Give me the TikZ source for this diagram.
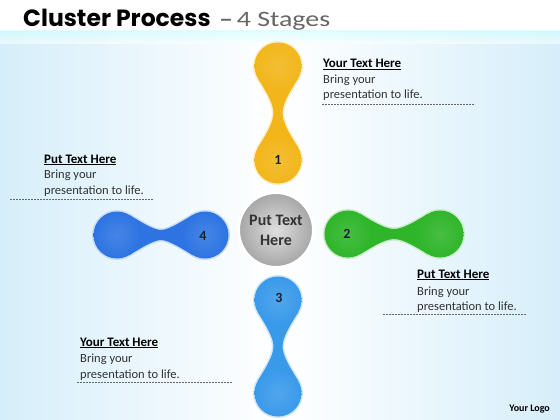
\documentclass[tikz,border=0pt]{standalone}
\usepackage{fontspec}
\setmainfont{Carlito}
\newfontfamily\titlefont{Poppins}
\newfontfamily\widefont[FakeStretch=1.27]{Carlito}
\definecolor{cyel}{HTML}{F2B61A}
\definecolor{cgrn}{HTML}{2FB52A}
\definecolor{cdbl}{HTML}{2D74E2}
\definecolor{clbl}{HTML}{3A9AEA}
\definecolor{bgblue}{HTML}{D6EEFA}
\definecolor{numcol}{HTML}{1A2236}
\definecolor{txtcol}{HTML}{333333}
\tikzset{
  pics/bell/.style n args={3}{code={
    \draw[#1!25!white, line width=3pt] (0,0) circle[radius=23.5] ({#2},0) circle[radius=23.5];
    \draw[#1!25!white, line width=3pt] (12,20.3) .. controls (21,15) and (36,#3) .. ({#2/2},#3) .. controls ({#2-36},#3) and ({#2-21},15) .. ({#2-12},20.3);
    \draw[#1!25!white, line width=3pt] ({#2-12},-20.3) .. controls ({#2-21},-15) and ({#2-36},-#3) .. ({#2/2},-#3) .. controls (36,-#3) and (21,-15) .. (12,-20.3);
    \fill[#1] (12,20.3) .. controls (21,15) and (36,#3) .. ({#2/2},#3) .. controls ({#2-36},#3) and ({#2-21},15) .. ({#2-12},20.3) -- ({#2-12},-20.3) .. controls ({#2-21},-15) and ({#2-36},-#3) .. ({#2/2},-#3) .. controls (36,-#3) and (21,-15) .. (12,-20.3) -- cycle;
    \shade[inner color=#1!88!white, outer color=#1] (0,0) circle[radius=23.5];
    \shade[inner color=#1!88!white, outer color=#1] ({#2},0) circle[radius=23.5];
  }},
  head/.style={anchor=base west, inner sep=0pt, font=\fontsize{13}{15}\selectfont\bfseries, text=black},
  body/.style={anchor=base west, inner sep=0pt, font=\fontsize{12.5}{15}\selectfont, text=txtcol},
  dline/.style={draw=gray!80!black, line width=0.8pt, dash pattern=on 2pt off 1pt},
  num/.style={font=\fontsize{14}{14}\selectfont\bfseries, text=numcol, inner sep=0pt}
}
\begin{document}
\begin{tikzpicture}[x=1pt,y=-1pt]
\useasboundingbox (0,0) rectangle (560,420);
% background
\shade[left color=bgblue, right color=bgblue, middle color=white] (0,31) rectangle (560,420);
\fill[white] (0,0) rectangle (560,31);
\shade[top color=cyan!20!white, bottom color=white, opacity=0.6] (0,31) rectangle (560,44);
% title
\node[anchor=base west, inner sep=0pt] (title) at (23,27) {\titlefont\fontsize{23.5}{24}\selectfont\bfseries Cluster Process};
\node[anchor=base west, inner sep=0pt, text=gray!80!black] (subtitle) at (219,27) {\widefont\fontsize{22}{22}\selectfont\bfseries –\,\mdseries 4 Stages};
% dumbbells
\pic[rotate=90] at (278,160) {bell={cyel}{94}{4.5}};
\pic at (348,234) {bell={cgrn}{92}{5}};
\pic[rotate=90] at (278,393) {bell={clbl}{93}{4.5}};
\pic at (117,235) {bell={cdbl}{88}{5}};
% centre
\node[circle, minimum size=75pt, draw=white, line width=3pt, inner color=gray!25!white, outer color=gray!70!white, align=center, font=\fontsize{16}{20}\selectfont\bfseries, text=txtcol] (centre) at (276,230) {Put Text\\Here};
% numbers
\node[num] (n1) at (278,160) {1};
\node[num] (n2) at (347,234) {2};
\node[num] (n3) at (279,298) {3};
\node[num] (n4) at (203,236) {4};
% text blocks
\node[head] (h1) at (323,68) {\underline{Your Text Here}};
\node[body] (b1a) at (323,84) {Bring your};
\node[body] (b1b) at (323,99) {presentation to life.};
\coordinate (d1a) at (322,104); \coordinate (d1b) at (475,104);
\draw[dline] (d1a) -- (d1b);

\node[head] (h2) at (44,163) {\underline{Put Text Here}};
\node[body] (b2a) at (44,178) {Bring your};
\node[body] (b2b) at (44,194) {presentation to life.};
\coordinate (d2a) at (10,199); \coordinate (d2b) at (153,199);
\draw[dline] (d2a) -- (d2b);

\node[head] (h3) at (417,278) {\underline{Put Text Here}};
\node[body] (b3a) at (417,295) {Bring your};
\node[body] (b3b) at (417,310) {presentation to life.};
\coordinate (d3a) at (383,314); \coordinate (d3b) at (526,314);
\draw[dline] (d3a) -- (d3b);

\node[head] (h4) at (80,346) {\underline{Your Text Here}};
\node[body] (b4a) at (80,362) {Bring your};
\node[body] (b4b) at (80,378) {presentation to life.};
\coordinate (d4a) at (77,382); \coordinate (d4b) at (232,382);
\draw[dline] (d4a) -- (d4b);

\node[anchor=base east, inner sep=0pt, font=\fontsize{10}{10}\selectfont\bfseries] (logo) at (550,411) {Your Logo};
\end{tikzpicture}
\end{document}
